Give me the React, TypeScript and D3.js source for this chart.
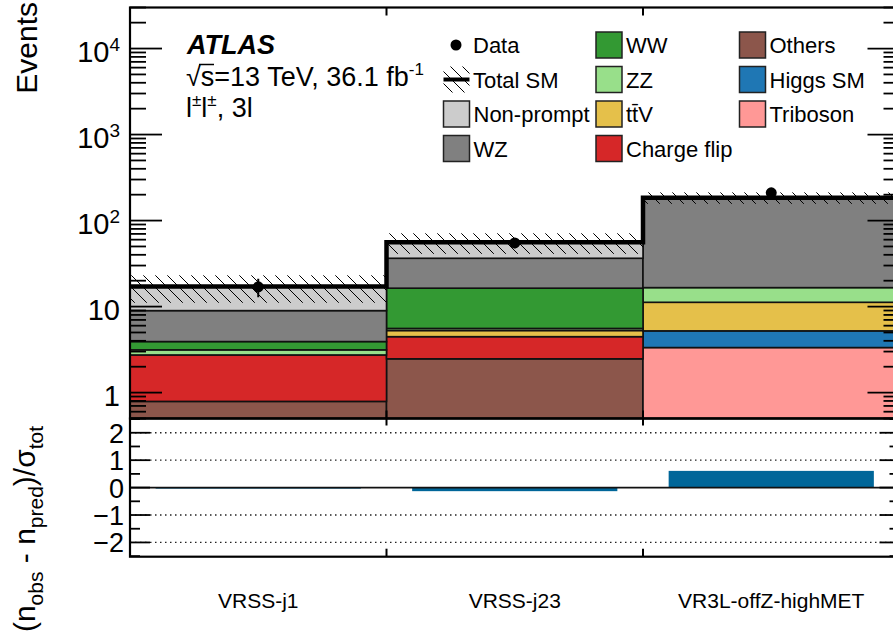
import React from "react";
import * as d3 from "d3";

// ---------- data ----------
const regions = ["VRSS-j1", "VRSS-j23", "VR3L-offZ-highMET"];
const others = [0.79, 2.47, 0];
const triboson = [0, 0, 3.34];
const higgsSM = [0, 0, 1.88];
const chargeFlip = [1.95, 2.0, 0];
const ttV = [0, 0.8, 6.0];
const zz = [0.4, 0.3, 5.4];
const ww = [0.78, 10.8, 0];
const wz = [5.06, 20.1, 162];
const nonPrompt = [8.1, 19.6, 6];
const dataObs = [17, 55, 210];
const totalErr = [6, 15, 28];
const significance = [-0.02, -0.13, 0.61];
const mainTicks = [1, 10, 100, 1000, 10000];
const ratioTicks = [-2, -1, 0, 1, 2];

// stack order (bottom -> top)
const samples = [
  { key: "Others", values: others, color: "#8c564b" },
  { key: "Triboson", values: triboson, color: "#ff9896" },
  { key: "Higgs SM", values: higgsSM, color: "#1f77b4" },
  { key: "Charge flip", values: chargeFlip, color: "#d62728" },
  { key: "ttV", values: ttV, color: "#e5c04a" },
  { key: "ZZ", values: zz, color: "#98df8a" },
  { key: "WW", values: ww, color: "#339933" },
  { key: "WZ", values: wz, color: "#808080" },
  { key: "Non-prompt", values: nonPrompt, color: "#cccccc" },
];

const FONT = "'Liberation Sans', Arial, Helvetica, sans-serif";

const W = 893;
const H = 637;
const L = 130;
const R = 899.5;
const T = 7.5;
const MB = 418.5; // main bottom
const RB = 556.7; // ratio bottom

export default function App() {
  const x = d3.scaleLinear().domain([0, regions.length]).range([L, R]);
  const y = d3.scaleLog().domain([0.5, 3e4]).range([MB, T]);
  const yr = d3.scaleLinear().domain([-2.52, 2.52]).range([RB, MB]);

  const table = regions.map((r, i) => {
    const o: any = { region: r };
    samples.forEach((s) => (o[s.key] = s.values[i]));
    return o;
  });
  const stack = d3.stack().keys(samples.map((s) => s.key))(table);
  const totals = regions.map((_, i) => d3.sum(samples, (s) => s.values[i]));

  const yc = (v: number) => y(Math.max(v, 0.5));

  const totalPts: [number, number][] = [];
  totals.forEach((t, i) => {
    totalPts.push([x(i), y(t)]);
    totalPts.push([x(i + 1), y(t)]);
  });
  const line = d3.line();

  // minor ticks for log axis
  const minor: number[] = [];
  for (let e = -1; e <= 4; e++) {
    for (let m = 1; m <= 9; m++) {
      const v = m * Math.pow(10, e);
      if (v >= 0.5 && v <= 3e4 && m !== 1) minor.push(v);
    }
  }
  const ratioMinor = d3.range(-2.5, 2.51, 0.5).filter((v) => Math.abs(v - Math.round(v)) > 0.1);

  const legendRows = [45, 79.5, 114, 148.5];
  const col1 = 443.5, col2 = 596, col3 = 739.5;
  const box = 26;
  const legendFs = 22;
  const sampleColor = (k: string) => samples.find((s) => s.key === k)!.color;
  const legendBoxes = [
    { k: "Non-prompt", label: "Non-prompt", cx: col1, row: 2 },
    { k: "WZ", label: "WZ", cx: col1, row: 3 },
    { k: "WW", label: "WW", cx: col2, row: 0 },
    { k: "ZZ", label: "ZZ", cx: col2, row: 1 },
    { k: "ttV", label: "tt\u0304V", cx: col2, row: 2 },
    { k: "Charge flip", label: "Charge flip", cx: col2, row: 3 },
    { k: "Others", label: "Others", cx: col3, row: 0 },
    { k: "Higgs SM", label: "Higgs SM", cx: col3, row: 1 },
    { k: "Triboson", label: "Triboson", cx: col3, row: 2 },
  ];

  return (
    <svg
      width={W}
      height={H}
      style={{ position: "absolute", left: 0, top: 0, background: "#fff" }}
      fontFamily={FONT}
    >
      <defs>
        <clipPath id="mainClip">
          <rect x={L} y={T} width={R - L} height={MB - T} />
        </clipPath>
        <pattern id="hatch" patternUnits="userSpaceOnUse" width={12} height={12}>
          <path d="M0,0 L12,12 M-6,6 L6,18 M6,-6 L18,6" stroke="#000" strokeWidth={1} />
        </pattern>
      </defs>
      <rect x={0} y={0} width={W} height={H} fill="#fff" />

      {/* stacked histograms */}
      <g clipPath="url(#mainClip)">
        {stack.map((layer, li) =>
          layer.map((d, i) => {
            if (d[1] - d[0] <= 0) return null;
            const y1 = yc(d[1]);
            const y0 = yc(d[0]);
            return (
              <rect
                key={`${li}-${i}`}
                x={x(i)}
                y={y1}
                width={x(i + 1) - x(i)}
                height={Math.max(0, y0 - y1)}
                fill={samples[li].color}
                stroke="#111"
                strokeWidth={1.6}
              />
            );
          })
        )}
        {/* uncertainty band */}
        {totals.map((t, i) => (
          <rect
            key={`h${i}`}
            x={x(i)}
            y={y(t + totalErr[i])}
            width={x(i + 1) - x(i)}
            height={y(t - totalErr[i]) - y(t + totalErr[i])}
            fill="url(#hatch)"
          />
        ))}
        <path d={line(totalPts) || ""} fill="none" stroke="#000" strokeWidth={4.5} />
        {/* data */}
        {dataObs.map((n, i) => {
          const cx = (x(i) + x(i + 1)) / 2;
          const e = Math.sqrt(n);
          return (
            <g key={`d${i}`}>
              <line x1={cx} x2={cx} y1={y(n + e)} y2={y(n - e)} stroke="#000" strokeWidth={2} />
              <circle cx={cx} cy={y(n)} r={5.5} fill="#000" />
            </g>
          );
        })}
      </g>

      {/* ratio panel */}
      {ratioTicks
        .filter((v) => v !== 0)
        .map((v) => (
          <line
            key={`g${v}`}
            x1={L}
            x2={R}
            y1={yr(v)}
            y2={yr(v)}
            stroke="#222"
            strokeWidth={1.3}
            strokeDasharray="1.5,3.5"
          />
        ))}
      {significance.map((s, i) => {
        const w = (x(i + 1) - x(i)) * 0.8;
        const cx = (x(i) + x(i + 1)) / 2;
        const y0 = yr(0);
        const y1 = yr(s);
        return (
          <rect
            key={`s${i}`}
            x={cx - w / 2}
            y={Math.min(y0, y1)}
            width={w}
            height={Math.max(1, Math.abs(y1 - y0))}
            fill="#006699"
          />
        );
      })}
      <line x1={L} x2={R} y1={yr(0)} y2={yr(0)} stroke="#111" strokeWidth={1.6} />

      {/* frames */}
      <rect x={L} y={T} width={R - L} height={MB - T} fill="none" stroke="#000" strokeWidth={2.2} />
      <rect x={L} y={MB} width={R - L} height={RB - MB} fill="none" stroke="#000" strokeWidth={2.2} />

      {/* main y ticks */}
      {mainTicks.map((v) => (
        <g key={`mt${v}`}>
          <line x1={L} x2={L + 32} y1={y(v)} y2={y(v)} stroke="#000" strokeWidth={1.8} />
          <line x1={R - 32} x2={R} y1={y(v)} y2={y(v)} stroke="#000" strokeWidth={1.8} />
        </g>
      ))}
      {minor.map((v) => (
        <g key={`mn${v}`}>
          <line x1={L} x2={L + 16} y1={y(v)} y2={y(v)} stroke="#000" strokeWidth={1.8} />
          <line x1={R - 16} x2={R} y1={y(v)} y2={y(v)} stroke="#000" strokeWidth={1.8} />
        </g>
      ))}
      {mainTicks.map((v) => {
        const e = Math.round(Math.log10(v));
        return (
          <text key={`ml${v}`} x={120} y={y(v) + 13} fontSize={29} textAnchor="end" fill="#000">
            {e <= 1 ? (
              String(v)
            ) : (
              <>
                <tspan>10</tspan>
                <tspan dy={-11} fontSize={19}>
                  {e}
                </tspan>
              </>
            )}
          </text>
        );
      })}

      {/* ratio y ticks */}
      {ratioTicks.map((v) => (
        <g key={`rt${v}`}>
          <line x1={L} x2={L + 20} y1={yr(v)} y2={yr(v)} stroke="#000" strokeWidth={1.8} />
          <line x1={R - 20} x2={R} y1={yr(v)} y2={yr(v)} stroke="#000" strokeWidth={1.8} />
          <text x={124} y={yr(v) + 10} fontSize={27} textAnchor="end" fill="#000">
            {v < 0 ? `\u2212${Math.abs(v)}` : String(v)}
          </text>
        </g>
      ))}
      {ratioMinor.map((v) => (
        <g key={`rm${v}`}>
          <line x1={L} x2={L + 10} y1={yr(v)} y2={yr(v)} stroke="#000" strokeWidth={1.8} />
          <line x1={R - 10} x2={R} y1={yr(v)} y2={yr(v)} stroke="#000" strokeWidth={1.8} />
        </g>
      ))}

      {/* x ticks at bin boundaries */}
      {d3.range(1, regions.length).map((i) => (
        <g key={`xt${i}`}>
          <line x1={x(i)} x2={x(i)} y1={T} y2={T + 8} stroke="#000" strokeWidth={2} />
          <line x1={x(i)} x2={x(i)} y1={MB - 8} y2={MB + 7} stroke="#000" strokeWidth={2} />
          <line x1={x(i)} x2={x(i)} y1={RB - 8} y2={RB} stroke="#000" strokeWidth={2} />
        </g>
      ))}

      {/* x labels */}
      {regions.map((r, i) => (
        <text
          key={`xl${r}`}
          x={(x(i) + x(i + 1)) / 2}
          y={608}
          fontSize={21}
          textAnchor="middle"
          fill="#000"
        >
          {r}
        </text>
      ))}

      {/* axis titles */}
      <text transform="translate(37,2) rotate(-90)" fontSize={30} textAnchor="end" fill="#000">
        Events
      </text>
      <text transform="translate(35,529) rotate(-90)" fontSize={30} textAnchor="middle" fill="#000">
        <tspan>(n</tspan>
        <tspan dy={8} fontSize={21}>obs</tspan>
        <tspan dy={-8}> - n</tspan>
        <tspan dy={8} fontSize={21}>pred</tspan>
        <tspan dy={-8}>)/σ</tspan>
        <tspan dy={8} fontSize={21}>tot</tspan>
      </text>

      {/* ATLAS label */}
      <text x={187} y={54} fontSize={27} fontWeight="bold" fontStyle="italic" fill="#000">
        ATLAS
      </text>
      <text x={186} y={86} fontSize={27} fill="#000">
        <tspan>√s=13 TeV, 36.1 fb</tspan>
        <tspan dy={-11} fontSize={17}>-1</tspan>
      </text>
      <line x1={199} x2={214} y1={64.5} y2={64.5} stroke="#000" strokeWidth={1.5} />
      <text x={186} y={117} fontSize={27} fill="#000">
        <tspan>l</tspan>
        <tspan dy={-11} fontSize={17}>±</tspan>
        <tspan dy={11}>l</tspan>
        <tspan dy={-11} fontSize={17}>±</tspan>
        <tspan dy={11}>, 3l</tspan>
      </text>

      {/* legend */}
      <circle cx={456} cy={legendRows[0]} r={5.5} fill="#000" />
      <text x={473} y={legendRows[0] + 8} fontSize={legendFs} fill="#000">
        Data
      </text>
      <rect x={col1} y={legendRows[1] - box / 2} width={box} height={box} fill="url(#hatch)" />
      <line
        x1={col1}
        x2={col1 + box}
        y1={legendRows[1]}
        y2={legendRows[1]}
        stroke="#000"
        strokeWidth={4}
      />
      <text x={473} y={legendRows[1] + 8} fontSize={legendFs} fill="#000">
        Total SM
      </text>
      {legendBoxes.map((b) => (
        <g key={`lg${b.k}`}>
          <rect
            x={b.cx}
            y={legendRows[b.row] - box / 2}
            width={box}
            height={box}
            fill={sampleColor(b.k)}
            stroke="#222"
            strokeWidth={1.5}
          />
          <text x={b.cx + 30} y={legendRows[b.row] + 8} fontSize={legendFs} fill="#000">
            {b.label}
          </text>
        </g>
      ))}
    </svg>
  );
}
